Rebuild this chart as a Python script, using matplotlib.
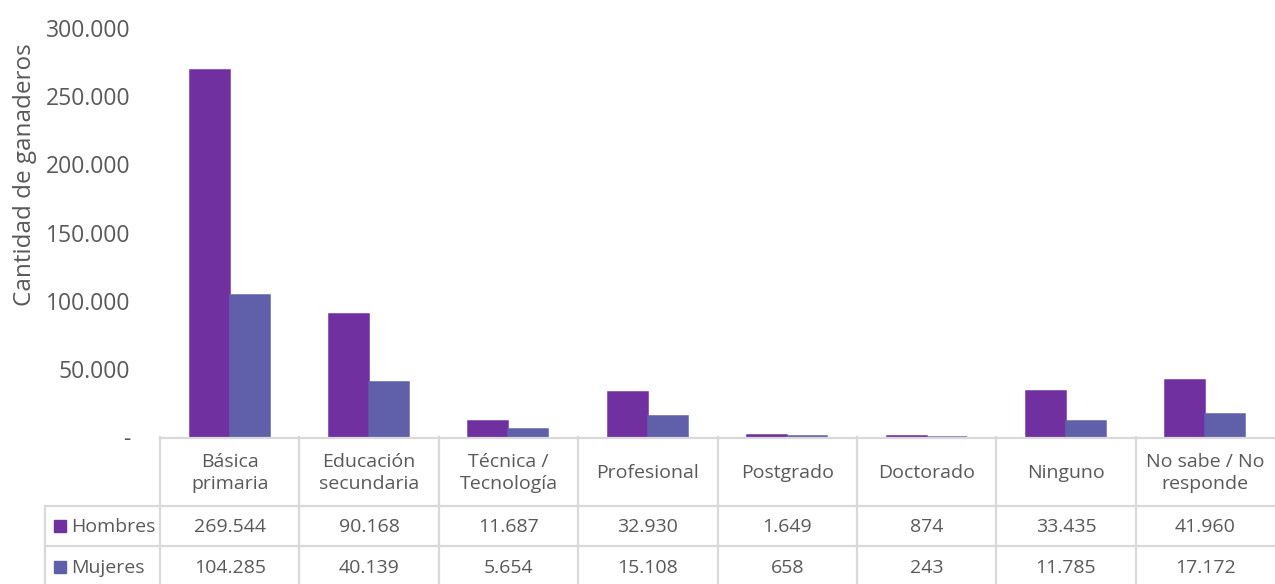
import matplotlib
matplotlib.use("Agg")
import matplotlib.pyplot as plt
from matplotlib.transforms import blended_transform_factory, Affine2D
from matplotlib.lines import Line2D
from matplotlib.patches import Rectangle
import numpy as np

categories = ["Básica\nprimaria", "Educación\nsecundaria", "Técnica /\nTecnología",
              "Profesional", "Postgrado", "Doctorado", "Ninguno", "No sabe / No\nresponde"]
series_names = ["Hombres", "Mujeres"]
hombres = [269544, 90168, 11687, 32930, 1649, 874, 33435, 41960]
mujeres = [104285, 40139, 5654, 15108, 658, 243, 11785, 17172]
y_ticks = [0, 50000, 100000, 150000, 200000, 250000, 300000]
y_tick_labels = ["-", "50.000", "100.000", "150.000", "200.000", "250.000", "300.000"]
y_label = "Cantidad de ganaderos"

colors = ["#7030A0", "#6060AA"]
text_color = "#595959"
grid_color = "#D9D9D9"
plt.rcParams['font.family'] = ['Open Sans', 'DejaVu Sans']

W, H = 1275, 584
fig = plt.figure(figsize=(W / 100, H / 100), dpi=100)
ax_left, ax_right, ax_top, ax_bottom = 160, 1275, 28, 437
ax = fig.add_axes([ax_left / W, 1 - ax_bottom / H, (ax_right - ax_left) / W, (ax_bottom - ax_top) / H])

x = np.arange(len(categories))
bw = 0.287
ax.bar(x - bw / 2, hombres, bw, color=colors[0], edgecolor=colors[0], linewidth=1.1)
ax.bar(x + bw / 2, mujeres, bw, color=colors[1], edgecolor=colors[1], linewidth=1.1)
ax.set_xlim(-0.5, len(categories) - 0.5)
ax.set_ylim(0, 300000)
ax.set_yticks(y_ticks)
ax.set_yticklabels(y_tick_labels, fontsize=16.5, color=text_color)
ax.tick_params(axis='y', length=0, pad=21.5)
ax.set_xticks([])
for s in ax.spines.values():
    s.set_visible(False)

fig.text(25 / W, 1 - 175 / H, y_label, rotation=90, ha='center', va='center',
         fontsize=17.5, color=text_color)

# pixel transform (top-down)
pix = Affine2D().scale(1 / W, -1 / H).translate(0, 1) + fig.transFigure
dpx = blended_transform_factory(ax.transData, pix)

lw = 1.6
# header top (axis baseline)
fig.add_artist(Line2D([-0.5, len(categories) - 0.5], [438, 438], transform=dpx, color=grid_color, lw=lw))
# vertical column lines
for k in range(len(categories)):
    fig.add_artist(Line2D([k - 0.5, k - 0.5], [437, 584], transform=dpx, color=grid_color, lw=lw))
# horizontal row lines across label column and data
for yy in [506, 546]:
    fig.add_artist(Line2D([45, ax_right], [yy, yy], transform=pix, color=grid_color, lw=lw))
fig.add_artist(Line2D([45, 45], [506, 584], transform=pix, color=grid_color, lw=lw))

# header texts
for i, c in enumerate(categories):
    fig.text(i, 473, c, transform=dpx, ha='center', va='center', fontsize=14,
             color=text_color, linespacing=1.35)

# rows
rows = [hombres, mujeres]
row_y = [527, 568]
for r, (name, vals, col) in enumerate(zip(series_names, rows, colors)):
    yc = row_y[r]
    fig.add_artist(Rectangle((54, yc + 5), 12, -12, transform=pix, color=col))
    fig.text(71, yc, name, transform=pix, ha='left', va='center', fontsize=14, color=text_color)
    for i, v in enumerate(vals):
        fig.text(i, yc, f"{v:,}".replace(",", "."), transform=dpx, ha='center', va='center',
                 fontsize=14, color=text_color)

fig.savefig("out.png", dpi=100)
